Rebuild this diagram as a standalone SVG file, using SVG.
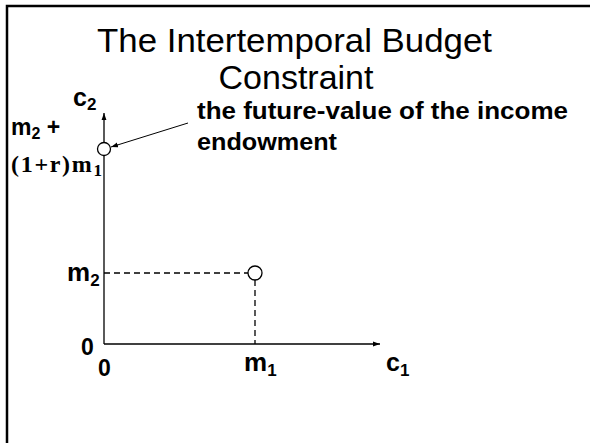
<svg xmlns="http://www.w3.org/2000/svg" width="590" height="443" viewBox="0 0 590 443">
<style>
.t{font-family:"Liberation Sans",Arial,sans-serif;fill:#000}
.b{font-family:"Liberation Sans",Arial,sans-serif;font-weight:bold;fill:#000}
.s{font-family:"Liberation Serif","Times New Roman",serif;font-weight:bold;fill:#000}
.ax{stroke:#000;stroke-width:1.3;fill:none}
.d{stroke:#000;stroke-width:1.3;stroke-dasharray:6,4;fill:none}
.pt{fill:#fff;stroke:#000;stroke-width:1.3}
</style>
<defs>
<marker id="ah" viewBox="0 0 10 10" refX="10" refY="5" markerWidth="7" markerHeight="7" orient="auto" markerUnits="userSpaceOnUse"><path d="M0,1.5 L10,5 L0,8.5 z" fill="#000"/></marker>
</defs>
<rect x="0" y="0" width="590" height="443" fill="#fff"/>
<path d="M7,443 V6 H590" fill="none" stroke="#000" stroke-width="2.5"/>
<g id="title">
<text class="t" x="294.5" y="52" font-size="34" text-anchor="middle" textLength="395" lengthAdjust="spacingAndGlyphs">The Intertemporal Budget</text>
<text class="t" x="296" y="89" font-size="34" text-anchor="middle">Constraint</text>
</g>
<g id="connectors">
<line class="ax" x1="104" y1="344" x2="104" y2="113" marker-end="url(#ah)"/>
<line class="ax" x1="104" y1="344" x2="380" y2="344" marker-end="url(#ah)"/>
<line class="d" x1="104" y1="273" x2="248" y2="273"/>
<line class="d" x1="255" y1="280" x2="255" y2="344"/>
<line x1="188" y1="123" x2="111" y2="147" stroke="#000" stroke-width="1" marker-end="url(#ah)"/>
</g>
<g id="axis-labels">
<text class="b" x="73" y="106" font-size="25">c<tspan font-size="17" dy="4">2</tspan></text>
<text class="b" x="386" y="371" font-size="25">c<tspan font-size="17" dy="5">1</tspan></text>
<text class="b" x="81" y="355" font-size="23">0</text>
<text class="b" x="98" y="376" font-size="23">0</text>
<text class="b" x="67" y="281" font-size="26">m<tspan font-size="17" dy="5">2</tspan></text>
<text class="b" x="244" y="371" font-size="26">m<tspan font-size="17" dy="5">1</tspan></text>
<text class="b" x="11" y="135" font-size="23">m<tspan font-size="16" dy="4">2</tspan><tspan dy="-4"> +</tspan></text>
<text class="s" x="11" y="172" font-size="24" textLength="91" lengthAdjust="spacing">(1+r)m<tspan font-size="17" dy="4">1</tspan></text>
</g>
<g id="endowment">
<circle class="pt" cx="255" cy="273" r="7"/>
</g>
<g id="future-value">
<circle class="pt" cx="104" cy="149" r="6.5"/>
</g>
<g id="annotation">
<text class="b" x="197" y="119" font-size="23" textLength="371" lengthAdjust="spacingAndGlyphs">the future-value of the income</text>
<text class="b" x="197" y="150" font-size="23" textLength="140" lengthAdjust="spacingAndGlyphs">endowment</text>
</g>
</svg>
